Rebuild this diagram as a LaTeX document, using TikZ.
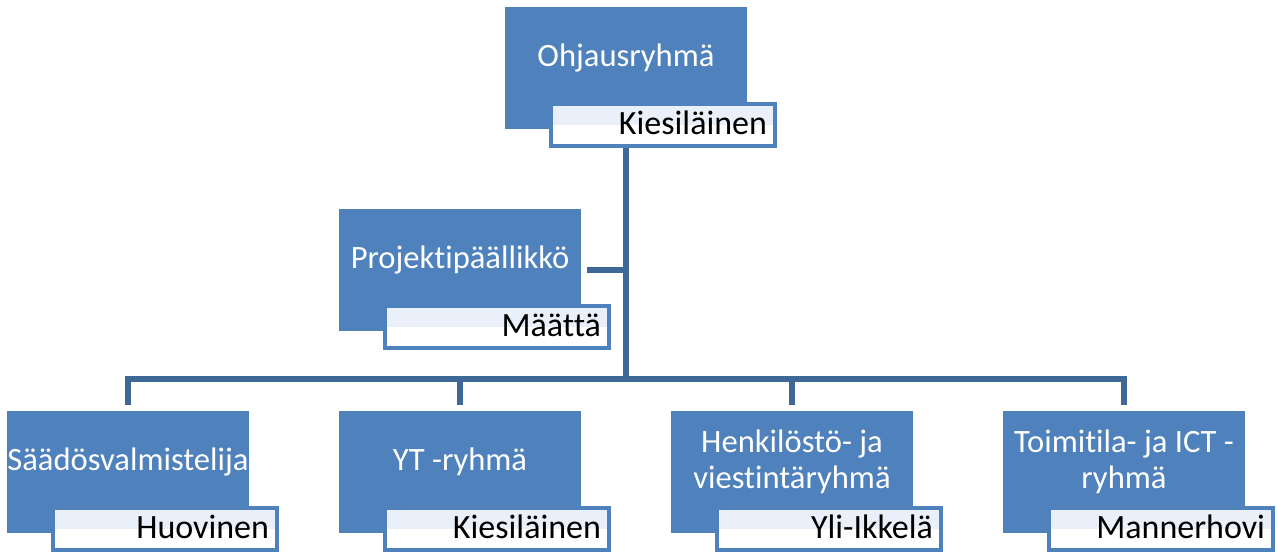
\documentclass[tikz,border=0pt]{standalone}
\usepackage{fontspec}
\setmainfont{Carlito}[Ligatures=CommonOff]
\usetikzlibrary{positioning,calc}

\definecolor{kastenblau}{RGB}{79,129,189}
\definecolor{linienblau}{RGB}{62,104,152}
\definecolor{hellblau}{RGB}{234,240,249}

\begin{document}
\begin{tikzpicture}[x=0.5pt,y=-0.5pt,
	kasten/.style={rectangle,fill=kastenblau,minimum width=121pt,minimum height=61pt,inner sep=0pt},
	titel/.style={text=white,align=center,font=\fontsize{16.3}{18}\selectfont,inner sep=0pt},
	namensfeld/.style={rectangle,draw=kastenblau,line width=2pt,fill=white,
		minimum width=112pt,minimum height=21pt,inner xsep=4pt,inner ysep=0pt,
		text width=104pt,align=right,text height=12pt,text depth=3pt,
		font=\fontsize{17}{18}\selectfont,
		path picture={\fill[hellblau] (path picture bounding box.north west) rectangle (path picture bounding box.east);}},
	verbinder/.style={draw=linienblau,line width=3pt}]

\useasboundingbox (0,0) rectangle (1277,551);

% #1 name, #2 linke Kante, #3 obere Kante, #4 Titel, #5 Person
\def\gruppe#1#2#3#4#5{
	\node[kasten] (#1) at ({#2+121},{#3+61}) {};
	\node[titel] (#1-titel) at ({#2+121},{#3+51}) {#4};
	\node[namensfeld] (#1-name) at ({#2+158},{#3+118}) {#5};
}

\coordinate (knoten) at (626,379);

% Verbindungen zuerst
\draw[verbinder] (626,129) -- (knoten);
\draw[verbinder] (587,270) -- (626,270);
\draw[verbinder] (knoten) -| (128,405);
\draw[verbinder] (knoten) -| (460,405);
\draw[verbinder] (knoten) -| (792,405);
\draw[verbinder] (knoten) -| (1124,405);

\gruppe{ohjaus}{505}{7}{Ohjausryhmä}{Kiesiläinen}
\gruppe{projekti}{339}{209}{Projektipäällikkö}{Määttä}

\gruppe{saados}{7}{411}{Säädösvalmistelija}{Huovinen}
\gruppe{yt}{339}{411}{YT -ryhmä}{Kiesiläinen}
\gruppe{henkilosto}{671}{411}{Henkilöstö- ja\\viestintäryhmä}{Yli-Ikkelä}
\gruppe{toimitila}{1003}{411}{Toimitila- ja ICT -\\ryhmä}{Mannerhovi}

\end{tikzpicture}
\end{document}
